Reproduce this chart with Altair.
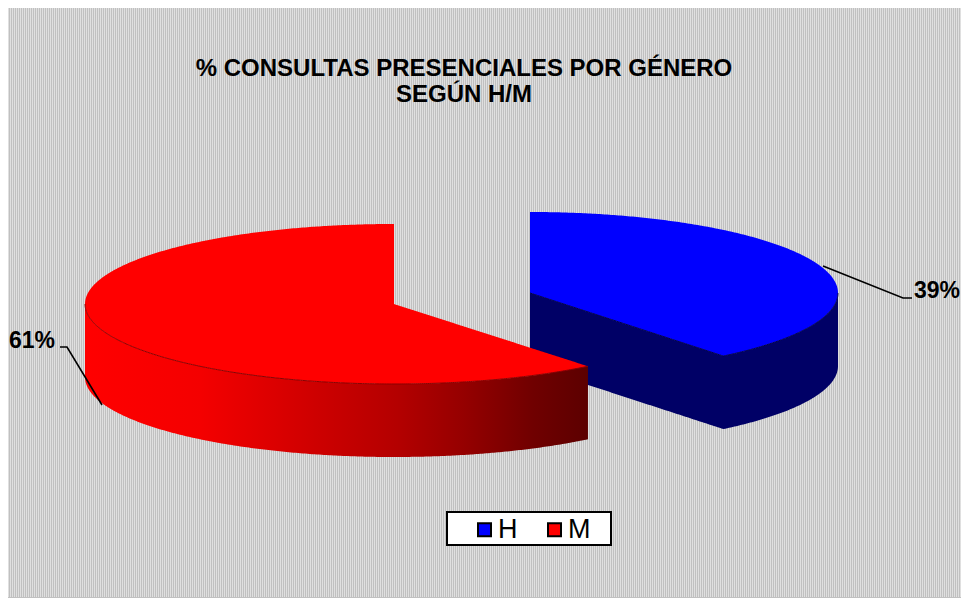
import numpy as np
import pandas as pd
import altair as alt

# --- values -----------------------------------------------------------
series = ["H", "M"]
shares = [39.2, 60.8]
colors = ["#0000ff", "#ff0000"]
title_lines = ["% CONSULTAS PRESENCIALES POR GÉNERO", "SEGÚN H/M"]

# --- drawing geometry (picture pixels) --------------------------------
X0, X1, Y0, Y1 = 8, 961, 8, 598
H_C = (530, 293, 308, 81)      # centre x, centre y, radius x, radius y
M_C = (394, 304, 309, 80)
DEPTH = 73

T = shares[0] / 100 * 2 * np.pi
x_scale = alt.Scale(domain=[X0, X1], range=[0, X1 - X0])
y_scale = alt.Scale(domain=[Y1, Y0], range=[Y1 - Y0, 0])


def upper(c, x):
    return c[1] - c[3] * np.sqrt(np.clip(1 - ((x - c[0]) / c[2]) ** 2, 0, 1))


def lower(c, x):
    return c[1] + c[3] * np.sqrt(np.clip(1 - ((x - c[0]) / c[2]) ** 2, 0, 1))


def enc(**kw):
    out = dict(
        x=alt.X("x:Q", scale=x_scale, axis=None),
        y=alt.Y("y:Q", scale=y_scale, axis=None),
    )
    out.update(kw)
    return out


# H sector
hx_end = H_C[0] + H_C[2] * np.sin(T)
hy_end = H_C[1] - H_C[3] * np.cos(T)
hx_arc = H_C[0] + H_C[2] * np.sin(np.linspace(0, np.pi / 2, 200))
hx = np.unique(np.concatenate([hx_arc, [hx_end]]))
h_line = H_C[1] + (hy_end - H_C[1]) * (hx - H_C[0]) / (hx_end - H_C[0])
h_low = np.where(hx <= hx_end, h_line, lower(H_C, hx))
h_top = pd.DataFrame({"x": hx, "y": upper(H_C, hx), "low": h_low, "s": "H"})
h_wall = pd.DataFrame({"x": hx, "y": h_low, "low": h_low + DEPTH})

# M sector
mx_end = M_C[0] + M_C[2] * np.sin(T)
my_end = M_C[1] - M_C[3] * np.cos(T)
mx_l = M_C[0] - M_C[2] * np.cos(np.linspace(0, np.pi / 2, 200))
mx_r = np.linspace(M_C[0] + 0.01, mx_end, 100)
mx = np.concatenate([mx_l, mx_r])
m_up = np.concatenate([
    upper(M_C, mx_l),
    M_C[1] + (my_end - M_C[1]) * (mx_r - M_C[0]) / (mx_end - M_C[0]),
])
m_low = lower(M_C, mx)
m_top = pd.DataFrame({"x": mx, "y": m_up, "low": m_low, "s": "M"})
m_wall = pd.DataFrame({"x": mx, "y": m_low, "low": m_low + DEPTH})

# backdrop: white dots on grey
dots = pd.DataFrame({"y": np.arange(Y0, Y1, 2)})
backdrop = alt.Chart(dots).mark_rule(
    color="#ffffff", strokeWidth=1, strokeDash=[1, 1]
).encode(y=alt.Y("y:Q", scale=y_scale, axis=None))

h_wall_layer = alt.Chart(h_wall).mark_area(color="#000066").encode(**enc(y2="low"))
red_gradient = alt.LinearGradient(
    gradient="linear", x1=0, x2=1, y1=0, y2=0,
    stops=[
        alt.GradientStop(color="#ff0000", offset=0),
        alt.GradientStop(color="#f40000", offset=0.23),
        alt.GradientStop(color="#cc0000", offset=0.47),
        alt.GradientStop(color="#b40000", offset=0.62),
        alt.GradientStop(color="#960000", offset=0.75),
        alt.GradientStop(color="#700000", offset=0.89),
        alt.GradientStop(color="#5c0000", offset=1),
    ],
)
m_wall_layer = alt.Chart(m_wall).mark_area(color=red_gradient).encode(**enc(y2="low"))

legend = alt.Legend(
    orient="none", legendX=463, legendY=508, direction="horizontal", columns=2,
    title=None, symbolType="square", symbolSize=169, symbolStrokeColor="#000000",
    symbolStrokeWidth=2, symbolOpacity=1, labelFont="Liberation Sans",
    labelFontSize=27, labelColor="#000000", labelOffset=0, columnPadding=23,
    padding=0,
)
tops = alt.Chart(pd.concat([h_top, m_top])).mark_area().encode(
    **enc(
        y2="low",
        color=alt.Color("s:N", scale=alt.Scale(domain=series, range=colors), legend=legend),
    )
)

# thin seams
seam_m = alt.Chart(m_wall).mark_line(color="#8a0000", strokeWidth=1).encode(**enc())
seam_h = alt.Chart(h_wall).mark_line(color="#00004a", strokeWidth=1).encode(**enc())

# leader lines
lead = pd.DataFrame({
    "x": [823, 903, 912, 60, 67, 102],
    "y": [266, 298, 298, 347, 347, 405],
    "g": ["H", "H", "H", "M", "M", "M"],
    "i": [0, 1, 2, 0, 1, 2],
})
leaders = alt.Chart(lead).mark_line(color="#000000", strokeWidth=1.6).encode(
    **enc(detail="g:N", order="i:Q"))

# percent labels
pct = pd.DataFrame({
    "x": [937, 32],
    "y": [298, 348],
    "t": [f"{round(v)}%" for v in shares],
})
pct_layer = alt.Chart(pct).mark_text(
    font="Liberation Sans", fontSize=23, fontWeight="bold", color="#000000",
    align="center", baseline="alphabetic",
).encode(**enc(text="t:N"))

# title
ttl = pd.DataFrame({"x": [464, 464], "y": [76, 102], "t": title_lines})
ttl_layer = alt.Chart(ttl).mark_text(
    font="Liberation Sans", fontSize=24, fontWeight="bold", color="#000000",
    align="center", baseline="alphabetic",
).encode(**enc(text="t:N"))

# legend frame
frame = alt.Chart(pd.DataFrame({"x": [447], "x2": [611], "y": [512], "y2": [545]})).mark_rect(
    fill="#ffffff", stroke="#000000", strokeWidth=2
).encode(**enc(x2="x2:Q", y2="y2:Q"))

chart = alt.layer(
    backdrop, h_wall_layer, m_wall_layer, tops, seam_m, seam_h, leaders,
    pct_layer, ttl_layer, frame,
).properties(
    width=X1 - X0, height=Y1 - Y0, padding=0, background="#c0c0c0",
    autosize=alt.AutoSizeParams(type="none"),
).configure_view(stroke=None)

chart.save("out.html", embed_options={"renderer": "svg", "actions": False})
